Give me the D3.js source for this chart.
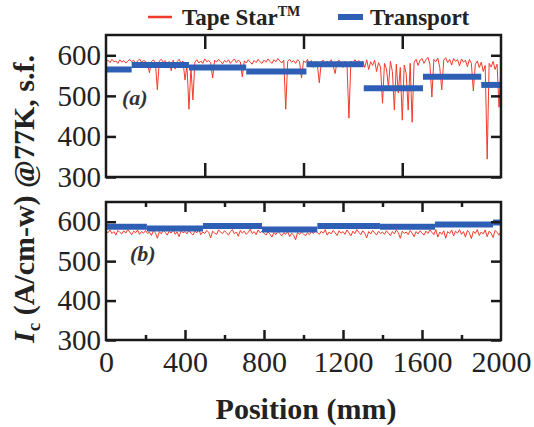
<!DOCTYPE html>
<html>
<head>
<meta charset="utf-8">
<script src="https://cdn.jsdelivr.net/npm/d3@7"></script>
<style>
  body { margin: 0; background: #fff; }
  svg { display: block; }
  text { font-family: "Liberation Serif", "Times New Roman", serif; }
</style>
</head>
<body>
<svg id="chart" width="534" height="427"></svg>
<script>
// ---- data ----
const STEP = 10; // mm between Tape Star readings

// Tape Star, panel (a), 0..2000 mm
const tapeA = [
  585,588,582,590,584,586,580,589,583,587,581,585,590,584,588,579,586,591,583,587,
  585,580,557,584,589,582,515,586,590,583,587,579,585,562,588,566,584,590,581,586,
  539,575,467,570,490,583,589,581,586,580,591,584,587,582,544,588,583,590,585,579,
  587,583,589,580,586,591,582,588,584,547,586,581,589,583,578,587,582,590,584,580,
  588,583,591,585,580,589,584,592,586,581,588,467,585,590,583,587,580,589,584,544,
  586,582,590,575,587,570,585,578,532,584,588,572,586,580,589,574,555,584,588,579,
  570,585,581,445,586,580,589,583,587,576,585,570,589,565,584,575,588,560,582,571,
  482,580,567,522,585,560,465,578,507,570,440,576,555,465,580,435,583,590,575,588,
  592,580,589,595,578,497,590,584,593,570,515,588,594,582,590,576,592,585,589,574,
  591,583,588,572,590,580,512,578,586,570,583,560,575,344,580,571,585,565,578,472,
  575
];

// Tape Star, panel (b), 0..2000 mm
const tapeB = [
  576,572,579,570,575,566,578,573,569,577,571,580,574,567,576,572,579,568,575,571,
  578,570,574,565,577,572,558,575,569,579,573,566,576,571,580,568,574,562,577,572,
  575,569,579,571,566,576,572,580,567,574,570,578,573,559,576,571,568,579,574,570,
  577,572,566,575,580,569,574,563,578,571,576,568,573,581,570,575,567,579,572,576,
  571,566,574,569,561,573,567,576,570,564,572,568,575,562,571,566,554,573,568,574,
  569,564,572,567,575,570,579,573,568,576,571,580,566,574,569,578,572,565,577,571,
  575,568,579,572,564,576,570,580,573,567,577,571,559,575,569,578,572,566,576,570,
  574,568,577,571,565,575,569,579,572,558,576,570,574,567,578,571,562,575,569,577,
  572,566,576,570,579,573,567,580,561,574,568,577,558,575,570,579,564,576,571,580,
  568,575,561,578,572,557,576,570,580,565,574,569,579,562,576,571,560,578,573,566,
  575
];

// Transport segments: [start mm, end mm, Ic]
const transportA = [
  [0, 130, 565], [130, 420, 576], [420, 710, 570], [710, 1015, 560],
  [1015, 1305, 578], [1305, 1605, 519], [1605, 1900, 547], [1900, 2000, 527]
];
const transportB = [
  [0, 207, 587], [207, 491, 583], [491, 790, 589], [790, 1070, 580],
  [1070, 1387, 589], [1387, 1666, 587], [1666, 1960, 593], [1960, 2000, 598]
];

const yTicks = [300, 400, 500, 600];
const xTicksA = [500, 1000, 1500];
const xMajorB = [400, 800, 1200, 1600];
const xMinorB = [200, 600, 1000, 1400, 1800];
const xLabels = [0, 400, 800, 1200, 1600, 2000];

// ---- layout ----
const RED = "#f23a2a", BLUE = "#2f5fb5", INK = "#1a1a1a";
const svg = d3.select("#chart");

const x = d3.scaleLinear().domain([0, 2000]).range([106, 501]);
const panels = [
  { top: 35, bottom: 177, tape: tapeA, transport: transportA, tag: "(a)", tagX: 122, tagY: 105, xt: 14 },
  { top: 202, bottom: 340, tape: tapeB, transport: transportB, tag: "(b)", tagX: 130, tagY: 261, xt: 10 }
];

const line = (y) => d3.line().x((d, i) => x(i * STEP)).y(d => y(d));

panels.forEach((p, pi) => {
  const y = d3.scaleLinear().domain([300, 650]).range([p.bottom, p.top]);
  const g = svg.append("g");

  // red trace
  g.append("path")
    .datum(p.tape)
    .attr("fill", "none")
    .attr("stroke", RED)
    .attr("stroke-width", 1)
    .attr("d", line(y));

  // blue transport steps
  g.selectAll("line.tr")
    .data(p.transport)
    .enter().append("line")
    .attr("class", "tr")
    .attr("x1", d => x(d[0]))
    .attr("x2", d => x(d[1]))
    .attr("y1", d => y(d[2]))
    .attr("y2", d => y(d[2]))
    .attr("stroke", BLUE)
    .attr("stroke-width", 6);

  // ticks
  const styleAxis = a => {
    a.select(".domain").remove();
    a.selectAll(".tick line").attr("stroke", INK).attr("stroke-width", 2.5);
    a.selectAll("text").attr("font-size", 29).attr("fill", "#222");
  };

  const xT = pi === 0 ? xTicksA : xMajorB;
  g.append("g").attr("transform", `translate(0,${p.top})`)
    .call(d3.axisTop(x).tickValues(xT).tickSize(-p.xt).tickFormat(""))
    .call(styleAxis);
  g.append("g").attr("transform", `translate(0,${p.bottom})`)
    .call(d3.axisBottom(x).tickValues(xT).tickSize(-p.xt).tickFormat(""))
    .call(styleAxis);
  if (pi === 1) {
    g.append("g").attr("transform", `translate(0,${p.top})`)
      .call(d3.axisTop(x).tickValues(xMinorB).tickSize(-5).tickFormat(""))
      .call(styleAxis);
    g.append("g").attr("transform", `translate(0,${p.bottom})`)
      .call(d3.axisBottom(x).tickValues(xMinorB).tickSize(-5).tickFormat(""))
      .call(styleAxis);
    g.append("g").attr("transform", `translate(0,${p.bottom})`)
      .call(d3.axisBottom(x).tickValues(xLabels).tickSize(0).tickPadding(11).tickFormat(d3.format("d")))
      .call(styleAxis)
      .call(a => a.selectAll("text").attr("font-size", 30));
  }

  g.append("g").attr("transform", `translate(106,0)`)
    .call(d3.axisLeft(y).tickValues(yTicks).tickSize(-10).tickPadding(5))
    .call(styleAxis);
  g.append("g").attr("transform", `translate(501,0)`)
    .call(d3.axisRight(y).tickValues(yTicks).tickSize(-10).tickFormat(""))
    .call(styleAxis);

  // frame
  g.append("rect")
    .attr("x", 106).attr("y", p.top)
    .attr("width", 395).attr("height", p.bottom - p.top)
    .attr("fill", "none")
    .attr("stroke", INK)
    .attr("stroke-width", 2.5);

  g.append("text")
    .attr("x", p.tagX).attr("y", p.tagY)
    .attr("font-size", 22)
    .attr("font-weight", "bold")
    .attr("font-style", "italic")
    .attr("fill", "#333")
    .text(p.tag);
});

// legend
const lg = svg.append("g").attr("font-weight", "bold").attr("fill", "#222");
lg.append("line").attr("x1", 148).attr("x2", 172).attr("y1", 17).attr("y2", 17)
  .attr("stroke", RED).attr("stroke-width", 2.5);
const t1 = lg.append("text").attr("x", 182).attr("y", 25).attr("font-size", 23);
t1.append("tspan").text("Tape Star");
t1.append("tspan").attr("font-size", 14).attr("dy", -9).text("TM");
lg.append("line").attr("x1", 338).attr("x2", 363).attr("y1", 17).attr("y2", 17)
  .attr("stroke", BLUE).attr("stroke-width", 6);
lg.append("text").attr("x", 370).attr("y", 25).attr("font-size", 23).text("Transport");

// axis titles
svg.append("text")
  .attr("x", 306).attr("y", 419)
  .attr("text-anchor", "middle")
  .attr("font-size", 30)
  .attr("font-weight", "bold")
  .attr("fill", "#222")
  .text("Position (mm)");

const yt = svg.append("text")
  .attr("transform", "translate(34,199) rotate(-90)")
  .attr("text-anchor", "middle")
  .attr("font-size", 30)
  .attr("font-weight", "bold")
  .attr("fill", "#222");
yt.append("tspan").attr("font-style", "italic").text("I");
yt.append("tspan").attr("font-size", 19).attr("dy", 6).text("c");
yt.append("tspan").attr("dy", -6).text(" (A/cm-w) @77K, s.f.");
</script>
</body>
</html>
